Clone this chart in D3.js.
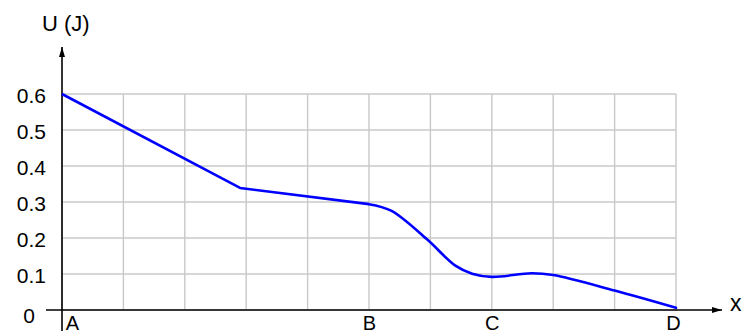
<!DOCTYPE html>
<html><head><meta charset="utf-8">
<script src="https://cdn.jsdelivr.net/npm/d3@7"></script>
<style>body{margin:0;background:#fff}svg{display:block}text{font-family:"Liberation Sans",Arial,sans-serif;fill:#000}</style>
</head><body><div id="chart"></div>
<script>
// ---- data ----
const yTicks = [0, 0.1, 0.2, 0.3, 0.4, 0.5, 0.6];
const xGrid = [0, 1, 2, 3, 4, 5, 6, 7, 8, 9, 10];
const pointLabels = ["A", "B", "C", "D"];
const pointX = [0, 5, 7, 10];
// straight part of the curve
const lineX = [0, 2.9, 5];
const lineU = [0.6, 0.339, 0.294];
// smooth part of the curve
const smoothX = [5, 5.36, 5.94, 6.4, 6.68, 7, 7.65, 8, 9, 10];
const smoothU = [0.294, 0.276, 0.197, 0.124, 0.101, 0.092, 0.102, 0.097, 0.054, 0.006];
const yTitle = "U (J)";
const xTitle = "x";

// ---- layout ----
const W = 744, H = 336;
const FONT = '"Liberation Sans",Arial,sans-serif';
const svg = d3.select("#chart").append("svg").attr("width", W).attr("height", H);
const x = d3.scaleLinear().domain([0, 10]).range([62, 676]);
const y = d3.scaleLinear().domain([0, 0.6]).range([310, 94]);

// grid
const grid = svg.append("g").attr("stroke", "#c8c8c8").attr("stroke-width", 1.4);
grid.selectAll("line.v").data(xGrid).join("line")
  .attr("x1", d => x(d)).attr("x2", d => x(d))
  .attr("y1", y(0)).attr("y2", y(0.6));
grid.selectAll("line.h").data(yTicks).join("line")
  .attr("x1", x(0)).attr("x2", x(10))
  .attr("y1", d => y(d)).attr("y2", d => y(d));

// y tick labels
const yAxis = d3.axisLeft(y).tickValues(yTicks).tickSize(0).tickPadding(0)
  .tickFormat(d => d === 0 ? "0" : d3.format(".1f")(d));
const ya = svg.append("g").attr("transform", "translate(46,0)").call(yAxis);
ya.select(".domain").remove();
ya.selectAll("text").attr("font-size", 21).attr("font-family", FONT)
  .attr("fill", "#000")
  .attr("x", d => d === 0 ? -11 : 0)
  .attr("dy", d => d === 0 ? "0.60em" : "0.40em");

// x point labels
const xAxis = d3.axisBottom(x).tickValues(pointX).tickSize(0).tickPadding(0)
  .tickFormat((d, i) => pointLabels[i]);
const xa = svg.append("g").attr("transform", "translate(0,316)").call(xAxis);
xa.select(".domain").remove();
xa.selectAll("text").attr("font-size", 20).attr("font-family", FONT)
  .attr("fill", "#000").attr("dy", "0.71em")
  .attr("x", d => d === 0 ? 10 : (d === 10 ? -3 : 0));

// axes with arrows
const defs = svg.append("defs");
defs.append("marker").attr("id", "arr").attr("viewBox", "0 0 10 6").attr("refX", 10).attr("refY", 3)
  .attr("markerWidth", 10).attr("markerHeight", 6).attr("markerUnits", "userSpaceOnUse")
  .attr("orient", "auto")
  .append("path").attr("d", "M0,0 L10,3 L0,6 Z").attr("fill", "#000");
svg.append("line").attr("x1", x(0)).attr("x2", x(0)).attr("y1", 331).attr("y2", 47)
  .attr("stroke", "#000").attr("stroke-width", 1.6).attr("marker-end", "url(#arr)");
svg.append("line").attr("x1", 46).attr("x2", 722).attr("y1", y(0)).attr("y2", y(0))
  .attr("stroke", "#000").attr("stroke-width", 1.6).attr("marker-end", "url(#arr)");

// titles
svg.append("text").attr("x", 42).attr("y", 31).attr("font-size", 22).attr("font-family", FONT).text(yTitle);
svg.append("text").attr("x", 730).attr("y", 311).attr("font-size", 23).attr("font-family", FONT).text(xTitle);

// curve
const lineData = lineX.map((d, i) => [d, lineU[i]]);
const smoothData = smoothX.map((d, i) => [d, smoothU[i]]);
const lin = d3.line().x(d => x(d[0])).y(d => y(d[1])).curve(d3.curveLinear);
const smo = d3.line().x(d => x(d[0])).y(d => y(d[1])).curve(d3.curveCatmullRom.alpha(0.5));
svg.append("path").attr("d", lin(lineData)).attr("fill", "none").attr("stroke", "#0000ff")
  .attr("stroke-width", 2.6).attr("stroke-linejoin", "round");
svg.append("path").attr("d", smo(smoothData)).attr("fill", "none").attr("stroke", "#0000ff")
  .attr("stroke-width", 2.6).attr("stroke-linecap", "round");
</script></body></html>
